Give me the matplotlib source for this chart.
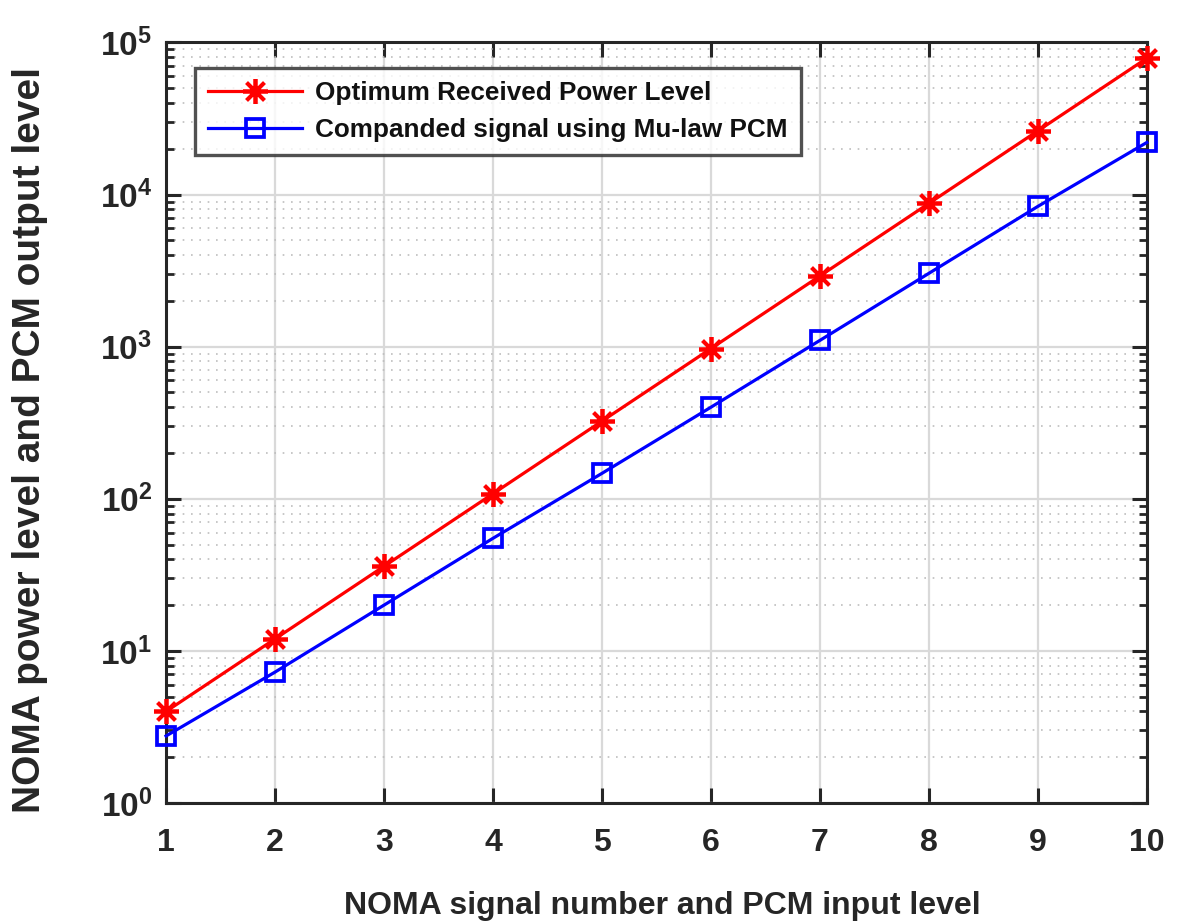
import matplotlib
matplotlib.use("Agg")
import matplotlib.pyplot as plt
import numpy as np
from matplotlib.ticker import LogLocator, NullFormatter

plt.rcParams['font.family'] = ['Liberation Sans', 'DejaVu Sans']
plt.rcParams['font.weight'] = 'bold'
plt.rcParams['mathtext.fontset'] = 'custom'
plt.rcParams['mathtext.rm'] = 'Liberation Sans:bold'
plt.rcParams['mathtext.it'] = 'Liberation Sans:bold'
plt.rcParams['mathtext.bf'] = 'Liberation Sans:bold'
plt.rcParams['mathtext.default'] = 'rm'

x = [1, 2, 3, 4, 5, 6, 7, 8, 9, 10]
optimum = [4, 12, 36, 108, 324, 972, 2916, 8748, 26244, 78732]
companded = [2.76, 7.26, 20.0, 55, 147, 400, 1100, 3035, 8360, 22000]
label_opt = "Optimum Received Power Level"
label_comp = "Companded signal using Mu-law PCM"
xlabel = "NOMA signal number and PCM input level"
ylabel = "NOMA power level and PCM output level"
ytick_vals = [1, 10, 100, 1000, 10000, 100000]
ytick_labels = [r"$10^{0}$", r"$10^{1}$", r"$10^{2}$", r"$10^{3}$", r"$10^{4}$", r"$10^{5}$"]

fig = plt.figure(figsize=(11.86, 9.22), dpi=100)
ax = fig.add_axes([0.140, 0.129, 0.827, 0.825])

ax.plot(x, optimum, color='#ff0000', lw=2.3, marker=(8, 2, 0), markersize=18,
        markeredgewidth=2.7, label=label_opt, zorder=3, clip_on=False)
ax.plot(x, companded, color='#0000ff', lw=2.3, marker='s', markersize=12.5,
        markerfacecolor='none', markeredgewidth=2.7, label=label_comp, zorder=3, clip_on=False)

ax.set_yscale('log')
ax.set_xlim(1, 10)
ax.set_ylim(1, 1e5)
ax.set_xticks(x)
ax.set_xticklabels([str(v) for v in x])
ax.set_yticks(ytick_vals)
ax.set_yticklabels(ytick_labels)
ax.yaxis.set_minor_locator(LogLocator(base=10, subs=np.arange(2, 10), numticks=20))
ax.yaxis.set_minor_formatter(NullFormatter())

ax.grid(True, which='major', color='#d9d9d9', lw=1.6, ls='-', zorder=0)
ax.grid(True, which='minor', axis='y', color='#bdbdbd', lw=1.2, ls=(0, (1, 4)), zorder=0)
ax.set_axisbelow(True)

for s in ax.spines.values():
    s.set_linewidth(2.2)
    s.set_color('#262626')

ax.tick_params(which='major', direction='in', length=11, width=2.2, top=True, right=True,
               colors='#262626')
ax.tick_params(which='minor', direction='in', length=6, width=2.0, top=True, right=True,
               colors='#262626')
ax.tick_params(axis='x', labelsize=23, pad=18)
ax.tick_params(axis='y', labelsize=24, pad=10)
for lab in ax.get_xticklabels() + ax.get_yticklabels():
    lab.set_color('#262626')
    lab.set_fontweight('bold')

ax.set_xlabel(xlabel, fontsize=23, fontweight='bold', color='#262626', va='top')
ax.xaxis.set_label_coords(0.506, -0.116)
ax.set_ylabel(ylabel, fontsize=28, fontweight='bold', color='#262626', va='bottom')
ax.yaxis.set_label_coords(-0.120, 0.477)

leg = ax.legend(loc='upper left', bbox_to_anchor=(0.0296, 0.966), fontsize=18.8,
                frameon=True, fancybox=False, edgecolor='#262626', handlelength=3.6,
                borderpad=0.5, labelspacing=0.5, handletextpad=0.5, borderaxespad=0)
leg.get_frame().set_linewidth(2.4)
for t in leg.get_texts():
    t.set_fontweight('bold')
    t.set_color('#111111')

fig.savefig('out.png', dpi=100)
